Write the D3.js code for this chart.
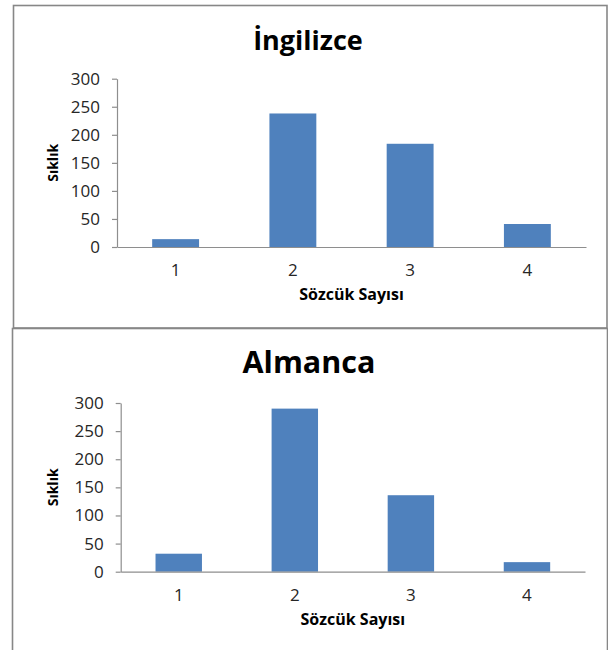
<!DOCTYPE html>
<html>
<head>
<meta charset="utf-8">
<script src="https://cdn.jsdelivr.net/npm/d3@7"></script>
<style>
  html, body { margin: 0; padding: 0; background: #ffffff; }
  svg { display: block; }
</style>
</head>
<body>
<svg id="chart" width="608" height="650"></svg>
<script>
// ---- data ----
const categories = ["1", "2", "3", "4"];
const englishValues = [14, 238, 184, 41];
const germanValues = [32, 290, 136, 17];
const yTickValues = [0, 50, 100, 150, 200, 250, 300];
const chartTitles = ["İngilizce", "Almanca"];
const xAxisTitle = "Sözcük Sayısı";
const yAxisTitle = "Sıklık";

// ---- drawing ----
const svg = d3.select("#chart");
const barColor = "#4F81BD";
const axisColor = "#8e8e8e";
const frameColor = "#878787";
const textColor = "#262626";
const baseFont = "'Open Sans', sans-serif";

function drawChart(g, values, title, L) {
  // frame
  g.append("rect")
    .attr("x", L.frame[0]).attr("y", L.frame[1])
    .attr("width", L.frame[2]).attr("height", L.frame[3])
    .attr("fill", "#ffffff")
    .attr("stroke", frameColor).attr("stroke-width", 1.6);

  const x = d3.scaleBand()
    .domain(categories)
    .range([L.left, L.right])
    .paddingInner(0.6)
    .paddingOuter(0.3);
  const y = d3.scaleLinear().domain([0, 300]).range([L.bottom, L.top]);

  // bars
  g.append("g").selectAll("rect")
    .data(values)
    .join("rect")
    .attr("x", (d, i) => x(categories[i]))
    .attr("width", x.bandwidth())
    .attr("y", d => y(d))
    .attr("height", d => y(0) - y(d))
    .attr("fill", barColor);

  // y axis
  const yAxis = g.append("g")
    .attr("transform", `translate(${L.left},0)`)
    .call(d3.axisLeft(y).tickValues(yTickValues).tickSize(5).tickSizeOuter(0).tickPadding(12));
  yAxis.select(".domain").attr("stroke", axisColor).attr("stroke-width", 1.2);
  yAxis.selectAll(".tick line").attr("stroke", axisColor).attr("stroke-width", 1.2);
  yAxis.selectAll(".tick text")
    .attr("fill", textColor)
    .style("font-family", baseFont)
    .style("font-size", "17px");

  // x axis
  const xAxis = g.append("g")
    .attr("transform", `translate(0,${L.bottom})`)
    .call(d3.axisBottom(x).tickSize(0).tickSizeOuter(0).tickPadding(17));
  xAxis.select(".domain").attr("stroke", axisColor).attr("stroke-width", 1.2);
  xAxis.selectAll(".tick text")
    .attr("fill", textColor)
    .style("font-family", baseFont)
    .style("font-size", "17px");

  // title
  g.append("text")
    .attr("x", L.titleX).attr("y", L.titleY)
    .attr("text-anchor", "middle")
    .style("font-family", baseFont)
    .style("font-weight", "bold")
    .style("font-size", L.titleSize + "px")
    .attr("fill", "#000000")
    .text(title);

  // x axis title
  g.append("text")
    .attr("x", (L.left + L.right) / 2)
    .attr("y", L.bottom + L.xTitleOffset)
    .attr("text-anchor", "middle")
    .style("font-family", baseFont)
    .style("font-weight", "bold")
    .style("font-size", "16px")
    .attr("fill", "#000000")
    .text(xAxisTitle);

  // y axis title
  g.append("text")
    .attr("transform", `translate(${L.yTitleX},${(L.top + L.bottom) / 2}) rotate(-90)`)
    .attr("text-anchor", "middle")
    .style("font-family", baseFont)
    .style("font-weight", "bold")
    .style("font-size", "14px")
    .attr("fill", "#000000")
    .text(yAxisTitle);
}

drawChart(svg.append("g"), englishValues, chartTitles[0], {
  frame: [13.5, 5.5, 593.5, 322.5],
  left: 117, right: 586, top: 78.7, bottom: 247,
  titleX: 308, titleY: 50, titleSize: 27,
  xTitleOffset: 53, yTitleX: 57.5
});

drawChart(svg.append("g"), germanValues, chartTitles[1], {
  frame: [12.5, 328.5, 595, 330],
  left: 120.7, right: 585, top: 403, bottom: 571.7,
  titleX: 309, titleY: 373, titleSize: 30.5,
  xTitleOffset: 53, yTitleX: 57.5
});
</script>
</body>
</html>
